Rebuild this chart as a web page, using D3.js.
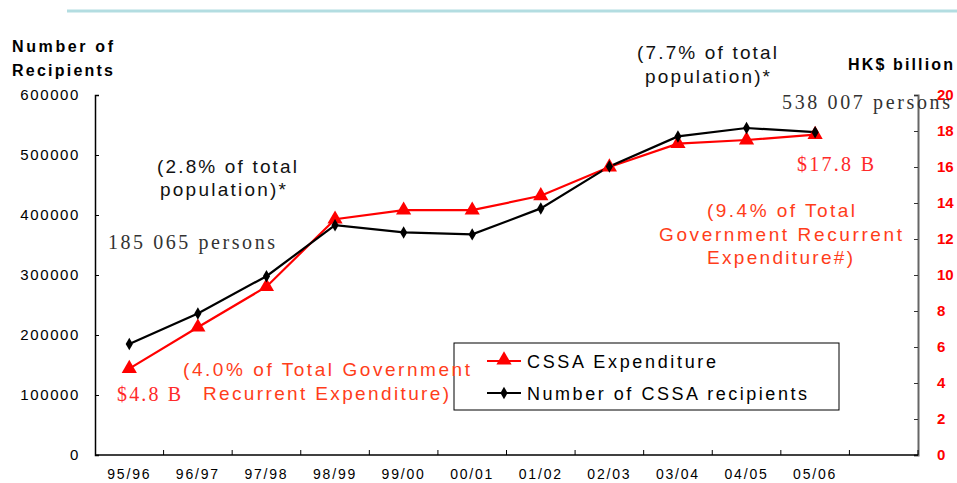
<!DOCTYPE html>
<html><head><meta charset="utf-8">
<script src="https://cdn.jsdelivr.net/npm/d3@7"></script>
<style>body{margin:0;background:#fff}svg{display:block}</style>
</head><body><div id="c"></div>
<script>
const categories = ["95/96","96/97","97/98","98/99","99/00","00/01","01/02","02/03","03/04","04/05","05/06"];
const recipients = [185065,236000,298000,383000,371000,367700,411000,481000,531000,545000,538007];
const expenditure = [4.8,7.1,9.35,13.1,13.6,13.6,14.4,16.0,17.3,17.5,17.8];
const leftTicks = [0,100000,200000,300000,400000,500000,600000];
const rightTicks = [0,2,4,6,8,10,12,14,16,18,20];

const W=957,H=483;
const svg=d3.select("#c").append("svg").attr("width",W).attr("height",H);
const L=95,R=918,T=95,B=455;
const domainCats=categories.concat(["__pad"]);
const x=d3.scaleBand().domain(domainCats).range([L,R]).padding(0);
const yL=d3.scaleLinear().domain([0,600000]).range([B,T]);
const yR=d3.scaleLinear().domain([0,20]).range([B,T]);
const sans="Arial, 'Liberation Sans', sans-serif", serif="'Times New Roman', 'Liberation Serif', serif";

svg.append("line").attr("x1",67).attr("x2",W).attr("y1",11).attr("y2",11).attr("stroke","#b3dde1").attr("stroke-width",3);

const la=svg.append("g").attr("transform",`translate(${L},0)`)
  .call(d3.axisRight(yL).tickValues(leftTicks).tickSize(4).tickFormat(d3.format("d")));
la.select(".domain").attr("stroke","#000").attr("stroke-width",1.5);
la.selectAll("text").attr("x",-15).attr("text-anchor","end").attr("font-family",sans).attr("font-size",15).attr("letter-spacing",1.6).attr("fill","#000");

const ra=svg.append("g").attr("transform",`translate(${R},0)`)
  .call(d3.axisLeft(yR).tickValues(rightTicks).tickSize(4));
ra.select(".domain").attr("stroke","#666").attr("stroke-width",2);
ra.selectAll(".tick line").attr("stroke","#333");
ra.selectAll("text").attr("x",19).attr("text-anchor","start").attr("font-family",sans).attr("font-size",15).attr("font-weight","bold").attr("fill","#ff0000");

const tickPos=domainCats.map(d=>x(d)).concat([R]).slice(1);
const ba=svg.append("g").attr("transform",`translate(0,${B})`);
ba.append("line").attr("x1",L).attr("x2",R).attr("stroke","#000").attr("stroke-width",1.5);
ba.selectAll("line.t").data(tickPos).enter().append("line").attr("class","t")
  .attr("x1",d=>d).attr("x2",d=>d).attr("y1",0).attr("y2",-5).attr("stroke","#000");
ba.selectAll("text").data(categories).enter().append("text")
  .attr("x",d=>x(d)+x.bandwidth()/2).attr("y",24).attr("text-anchor","middle")
  .attr("font-family",sans).attr("font-size",14).attr("letter-spacing",1.8).text(d=>d);

const cx=d=>x(d)+x.bandwidth()/2;
svg.append("path").datum(expenditure).attr("fill","none").attr("stroke","#ff0000").attr("stroke-width",2.2)
  .attr("d",d3.line().x((d,i)=>cx(categories[i])).y(d=>yR(d)));
svg.append("path").datum(recipients).attr("fill","none").attr("stroke","#000").attr("stroke-width",2.2)
  .attr("d",d3.line().x((d,i)=>cx(categories[i])).y(d=>yL(d)));
const tri=d3.symbol().type(d3.symbolTriangle).size(100);
svg.selectAll("path.tri").data(expenditure).enter().append("path").attr("class","tri")
  .attr("d",tri).attr("fill","#ff0000")
  .attr("transform",(d,i)=>`translate(${cx(categories[i])},${yR(d)})`);
const dia=d3.symbol().type(d3.symbolDiamond).size(45);
svg.selectAll("path.dia").data(recipients).enter().append("path").attr("class","dia")
  .attr("d",dia).attr("fill","#000")
  .attr("transform",(d,i)=>`translate(${cx(categories[i])},${yL(d)})`);

// legend (drawn before annotations so annotation text sits above it)
const lg=svg.append("g");
lg.append("rect").attr("x",454).attr("y",343).attr("width",385).attr("height",67).attr("fill","#fff").attr("stroke","#000").attr("stroke-width",1);
lg.append("line").attr("x1",487).attr("x2",521).attr("y1",361).attr("y2",361).attr("stroke","#ff0000").attr("stroke-width",2.2);
lg.append("path").attr("d",tri).attr("fill","#ff0000").attr("transform","translate(504,360)");
lg.append("line").attr("x1",487).attr("x2",521).attr("y1",393).attr("y2",393).attr("stroke","#000").attr("stroke-width",2.2);
lg.append("path").attr("d",dia).attr("fill","#000").attr("transform","translate(504,393)");

function txt(xx,yy,s,o){const t=svg.append("text").attr("x",xx).attr("y",yy).text(s)
  .attr("font-family",o.ff||sans).attr("font-size",o.fs||19).attr("fill",o.fill||"#000");
  if(o.fw)t.attr("font-weight",o.fw); if(o.anchor)t.attr("text-anchor",o.anchor);
  if(o.len)t.attr("textLength",o.len).attr("lengthAdjust","spacing"); return t;}
txt(527,368,"CSSA Expenditure",{fs:18,len:189});
txt(527,400,"Number of CSSA recipients",{fs:18,len:280});

txt(12,52,"Number of",{fs:16,fw:"bold",len:101});
txt(12,76,"Recipients",{fs:16,fw:"bold",len:101});
txt(848,70,"HK$ billion",{fs:16,fw:"bold",len:105});

txt(157,173,"(2.8% of total",{len:140,fill:"#111"});
txt(160,196,"population)*",{len:126,fill:"#111"});
txt(108,249,"185 065 persons",{ff:serif,fs:20,len:167,fill:"#333"});
txt(637,59,"(7.7% of total",{len:140,fill:"#111"});
txt(645,83,"population)*",{len:125,fill:"#111"});
txt(782,109,"538 007 persons",{ff:serif,fs:20,len:168,fill:"#333"});
txt(797,171,"$17.8 B",{ff:serif,fs:20,len:77,fill:"#ff2a2a"});
const org="#ff3d1a";
txt(707,217,"(9.4% of Total",{len:148,fill:org});
txt(659,241,"Government Recurrent",{len:243,fill:org});
txt(707,264,"Expenditure#)",{len:146,fill:org});
txt(183,376,"(4.0% of Total Government",{len:287,fill:org});
txt(203,400,"Recurrent Expenditure)",{len:246,fill:org});
txt(117,401,"$4.8 B",{ff:serif,fs:20,len:64,fill:"#ff2a2a"});
</script></body></html>
